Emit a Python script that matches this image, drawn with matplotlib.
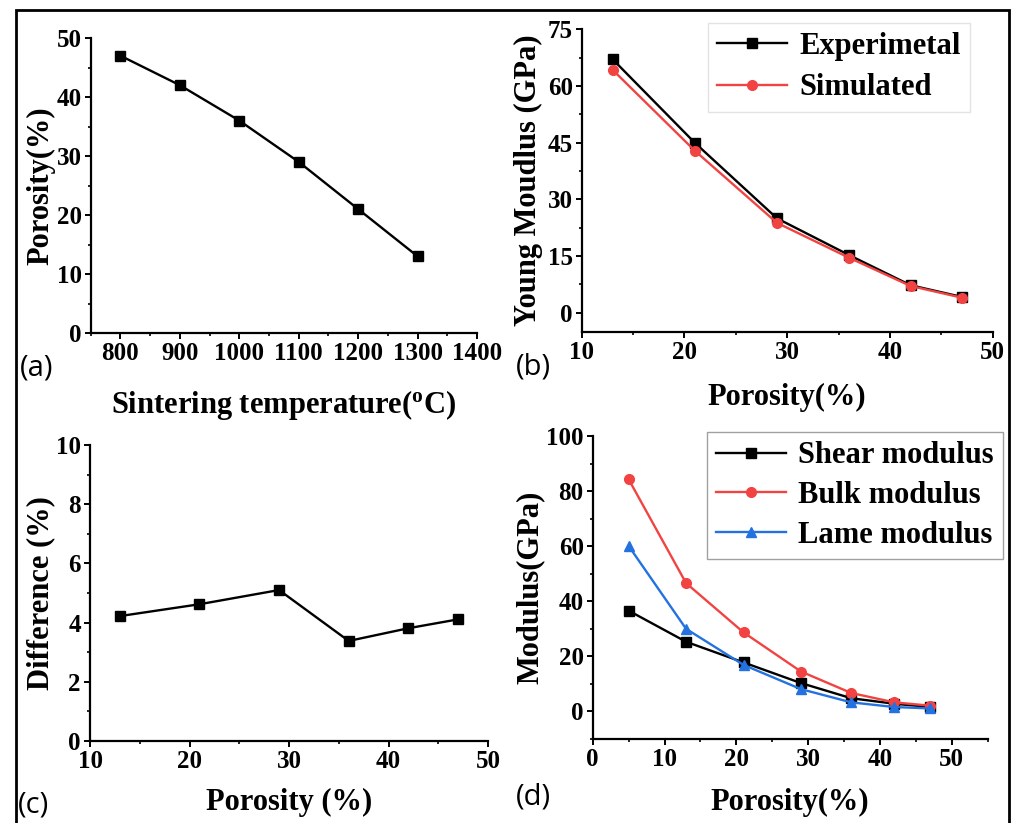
import matplotlib
matplotlib.use("Agg")
import matplotlib.pyplot as plt
from matplotlib.ticker import AutoMinorLocator, MultipleLocator
from matplotlib.patches import Rectangle

# (a) porosity vs sintering temperature
temps = [800, 900, 1000, 1100, 1200, 1300]
porosity_a = [47, 42, 36, 29, 21, 13]

# (b) Young modulus vs porosity
porosity_b = [13, 21, 29, 36, 42, 47]
young_exp = [67.1, 45.0, 25.0, 15.3, 7.3, 4.2]
young_sim = [64.3, 42.9, 23.8, 14.6, 7.1, 4.0]

# (c) difference between experiment and simulation
diff = [4.22, 4.62, 5.10, 3.38, 3.81, 4.11]

# (d) other moduli
porosity_d = [5, 13, 21, 29, 36, 42, 47]
shear = [36.6, 25.3, 17.8, 10.3, 4.8, 2.8, 1.6]
bulk = [84.3, 46.6, 28.7, 14.5, 6.7, 3.3, 2.1]
lame = [60.1, 30.0, 16.9, 8.1, 3.3, 1.6, 1.1]

RED = '#f24343'
BLUE = '#2372e0'

plt.rcParams['font.family'] = 'Liberation Serif'
plt.rcParams['font.weight'] = 'bold'
plt.rcParams['axes.labelweight'] = 'bold'

W, H = 1013, 823
fig = plt.figure(figsize=(W / 100, H / 100), dpi=100)


def box(l, t, r, b):
    return [l / W, 1 - b / H, (r - l) / W, (b - t) / H]


def style(ax):
    for s in ['top', 'right']:
        ax.spines[s].set_visible(False)
    for s in ['left', 'bottom']:
        ax.spines[s].set_linewidth(1.6)
    ax.xaxis.set_minor_locator(AutoMinorLocator(2))
    ax.yaxis.set_minor_locator(AutoMinorLocator(2))
    ax.tick_params(which='major', direction='out', length=4.5, width=1.4, labelsize=18, pad=2)
    ax.tick_params(which='minor', direction='out', length=2.5, width=1.2)
    for lab in ax.get_xticklabels() + ax.get_yticklabels():
        lab.set_fontweight('bold')


def labels(ax, xl, yl, xy, yx):
    ax.set_xlabel(xl, fontsize=lab_fs, va='center')
    ax.set_ylabel(yl, fontsize=lab_fs, va='center')
    ax.xaxis.set_label_coords(0.5, xy)
    ax.yaxis.set_label_coords(yx, 0.5)


def legend(ax, anchor, ec, spacing):
    leg = ax.legend(loc='upper right', bbox_to_anchor=anchor, borderaxespad=0, fontsize=leg_fs,
                    frameon=True, fancybox=False, edgecolor=ec, handlelength=2.3,
                    handletextpad=0.4, borderpad=0.3, labelspacing=spacing)
    leg.get_frame().set_linewidth(1.0)


lab_fs = 22
leg_fs = 22

ax1 = fig.add_axes(box(90.7, 38, 477, 333))
ax1.plot(temps, porosity_a, color='black', marker='s', markersize=6.5, lw=1.7)
ax1.set_xlim(750, 1400)
ax1.set_ylim(0, 50)
ax1.xaxis.set_major_locator(MultipleLocator(100))
ax1.yaxis.set_major_locator(MultipleLocator(10))
style(ax1)
labels(ax1, 'Sintering temperature($\\mathregular{^{o}}$C)', 'Porosity(%)', -0.244, -0.13)

ax2 = fig.add_axes(box(581.7, 29.3, 992.7, 331.7))
ax2.plot(porosity_b, young_exp, color='black', marker='s', markersize=6.5, lw=1.7, label='Experimetal')
ax2.plot(porosity_b, young_sim, color=RED, marker='o', markersize=7, lw=1.7, label='Simulated')
ax2.set_xlim(10, 50)
ax2.set_ylim(-5, 75)
ax2.xaxis.set_major_locator(MultipleLocator(10))
ax2.yaxis.set_major_locator(MultipleLocator(15))
style(ax2)
labels(ax2, 'Porosity(%)', 'Young Moudlus (GPa)', -0.216, -0.13)
legend(ax2, (0.945, 1.021), '#dddddd', 0.4)

ax3 = fig.add_axes(box(90, 445, 488, 741))
ax3.plot(porosity_b, diff, color='black', marker='s', markersize=6.5, lw=1.7)
ax3.set_xlim(10, 50)
ax3.set_ylim(0, 10)
ax3.xaxis.set_major_locator(MultipleLocator(10))
ax3.yaxis.set_major_locator(MultipleLocator(2))
style(ax3)
labels(ax3, 'Porosity (%)', 'Difference (%)', -0.209, -0.124)

ax4 = fig.add_axes(box(592.7, 436, 987.7, 739))
ax4.plot(porosity_d, shear, color='black', marker='s', markersize=6.5, lw=1.7, label='Shear modulus')
ax4.plot(porosity_d, bulk, color=RED, marker='o', markersize=7, lw=1.7, label='Bulk modulus')
ax4.plot(porosity_d, lame, color=BLUE, marker='^', markersize=7.5, lw=1.7, label='Lame modulus')
ax4.set_xlim(0, 55)
ax4.set_ylim(-10, 100)
ax4.xaxis.set_major_locator(MultipleLocator(10))
ax4.yaxis.set_major_locator(MultipleLocator(20))
style(ax4)
labels(ax4, 'Porosity(%)', 'Modulus(GPa)', -0.211, -0.159)
legend(ax4, (1.039, 1.013), '#888888', 0.35)

# panel letters
for txt, x, y in [('(a)', 20, 368), ('(b)', 516, 367), ('(c)', 18, 805), ('(d)', 516, 797)]:
    fig.text(x / W, 1 - y / H, txt, fontsize=21, fontweight='normal',
             family='Open Sans', ha='left', va='center')

# outer frame
fig.patches.append(Rectangle((16 / W, -0.05), (1009 - 16) / W, 1.05 - 10 / H,
                             transform=fig.transFigure, fill=False, lw=2, ec='black'))

fig.savefig('out.png', dpi=100)
